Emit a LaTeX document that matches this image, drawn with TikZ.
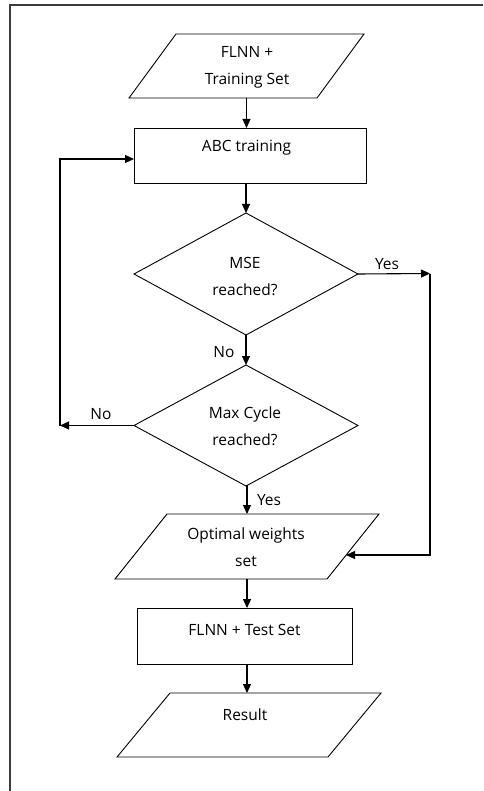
\documentclass[tikz,border=0pt]{standalone}
\usepackage{fontspec}
\setmainfont{Open Sans}
\usetikzlibrary{arrows.meta,shapes.geometric,calc}
\definecolor{framegray}{HTML}{3C3C3C}
\begin{document}
\begin{tikzpicture}[x=1pt,y=-1pt,
  shapeline/.style={draw=black,line width=0.9pt},
  procbox/.style={shapeline,rectangle,inner sep=0pt,outer sep=0pt},
  decision/.style={shapeline,diamond,inner sep=0pt,outer sep=0pt},
  iobound/.style={draw=none,rectangle,inner sep=0pt,outer sep=0pt},
  txt/.style={align=center,inner sep=0pt,font=\fontsize{15.5}{27}\selectfont},
  lbl/.style={inner sep=0pt,font=\fontsize{15.5}{17}\selectfont},
  flow/.style={line width=1.1pt,-{Triangle[length=9pt,width=8pt]}},
  plain/.style={line width=1.1pt}]
\useasboundingbox (0,0) rectangle (483,791);
% outer frame
\draw[framegray,line width=2pt] (9.5,791) -- (9.5,5.5) -- (483,5.5);

% parallelogram outline inside an invisible bounding node
\newcommand\slantbox[2]{\draw[shapeline] (#1.south west) -- ([xshift=#2]#1.north west) -- (#1.north east) -- ([xshift=-#2]#1.south east) -- cycle;}

% shapes
\node[iobound,minimum width=235pt,minimum height=64pt] (inp) at (246.5,66) {};
\slantbox{inp}{47pt}
\node[procbox,minimum width=232pt,minimum height=55pt] (abc) at (250,155.5) {};
\node[decision,minimum width=224pt,minimum height=122pt] (mse) at (246,274) {};
\node[decision,minimum width=224pt,minimum height=121pt] (max) at (246,425.5) {};
\node[iobound,minimum width=264pt,minimum height=65pt] (opt) at (247,546.5) {};
\slantbox{opt}{52pt}
\node[procbox,minimum width=215pt,minimum height=56pt] (test) at (244.5,636) {};
\node[iobound,minimum width=264pt,minimum height=64pt] (res) at (249,725) {};
\slantbox{res}{53pt}

% texts
\node[txt] (inpT) at (247,67) {FLNN +\\Training Set};
\node[txt] (abcT) at (246.5,148) {ABC training};
\node[txt] (mseT) at (245,276.5) {MSE\\reached?};
\node[txt] (maxT) at (245,426.5) {Max Cycle\\reached?};
\node[txt] (optT) at (246,547.5) {Optimal weights\\set};
\node[txt] (testT) at (244.5,630) {FLNN + Test Set};
\node[txt] (resT) at (245,715) {Result};

% connector turning points
\coordinate (loopL) at (60,425.5);
\coordinate (yesR) at (430,273.5);
\coordinate (optR) at (346,555);

% connectors
\draw[flow] (inp.south) -- (inp.south |- abc.north);
\draw[flow] (mse.north |- abc.south) -- (mse.north);
\draw[flow] (mse.south) -- (max.north);
\draw[flow] (max.south) -- (opt.north |- max.south) -- (opt.north);
\draw[flow] (opt.south) -- (opt.south |- test.north);
\draw[flow] (opt.south |- test.south) -- (opt.south |- res.north);
\draw[flow] (max.west) -- (loopL);
\draw[flow] (loopL) |- ([yshift=-3.5pt]abc.west);
\draw[flow] (mse.east) -- (yesR);
\draw[flow] (yesR) |- (optR);

% branch labels
\node[lbl] (yes1) at (387,264) {Yes};
\node[lbl] (no1) at (224,352) {No};
\node[lbl] (no2) at (101,414) {No};
\node[lbl] (yes2) at (269,500) {Yes};
\end{tikzpicture}
\end{document}
